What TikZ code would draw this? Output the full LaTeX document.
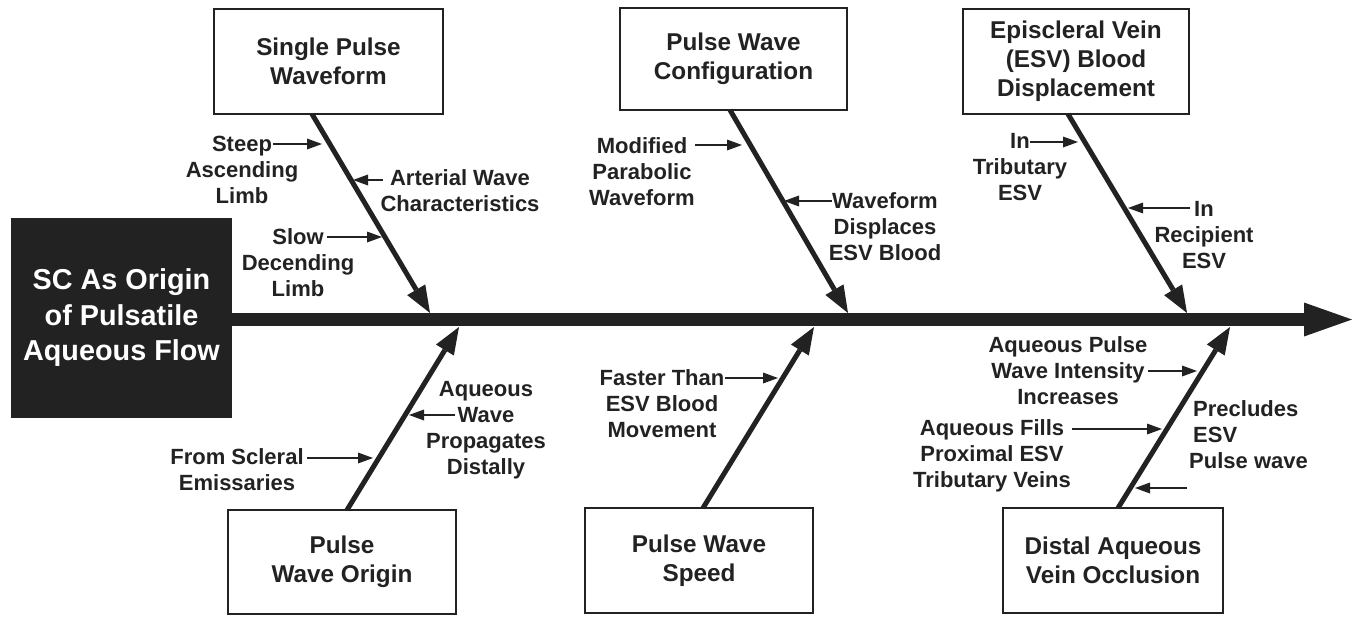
\documentclass[tikz,border=0pt]{standalone}
\usepackage{fontspec}
\setmainfont{Liberation Sans}
\usetikzlibrary{arrows.meta}
\definecolor{ink}{RGB}{34,34,34}
\tikzset{
  cause/.style={draw=ink, line width=2.5pt, fill=white, inner sep=0pt, align=center,
    text=ink, font=\fontsize{24.3}{29}\selectfont\bfseries},
  effect/.style={fill=ink, inner sep=0pt, align=center, text=white,
    font=\fontsize{28.8}{35.5}\selectfont\bfseries, minimum width=221pt, minimum height=200pt},
  note/.style={align=center, text=ink, inner sep=0pt, font=\fontsize{22}{26}\selectfont\bfseries},
  bone/.style={draw=ink, line width=5pt, -{Triangle[length=27pt,width=21pt,line width=0pt]}},
  spine/.style={draw=ink, line width=13pt, -{Triangle[length=48pt,width=34pt,line width=0pt]}},
  pointer/.style={draw=ink, line width=2pt, -{Triangle[length=15pt,width=11pt,line width=0pt]}},
}
\begin{document}
\begin{tikzpicture}[x=1pt,y=-1pt]
\useasboundingbox (0,0) rectangle (1360,616);

% effect and spine
\node[effect] (sc) at (121.5,318) {SC As Origin\\of Pulsatile\\Aqueous Flow};
\coordinate (head) at (1352,319.5);
\draw[spine] (sc.east |- head) -- (head);

% cause boxes
\node[cause, minimum width=229pt, minimum height=105pt] (c1) at (328.5,61.5) {Single Pulse\\Waveform};
\node[cause, minimum width=227pt, minimum height=102pt] (c2) at (733.5,59) {Pulse Wave\\Configuration};
\node[cause, minimum width=226pt, minimum height=105pt] (c3) at (1076,61.5) {Episcleral Vein\\(ESV) Blood\\Displacement};
\node[cause, minimum width=228pt, minimum height=104pt] (c4) at (342,562) {Pulse\\Wave Origin};
\node[cause, minimum width=228pt, minimum height=105pt] (c5) at (699,560.5) {Pulse Wave\\Speed};
\node[cause, minimum width=220pt, minimum height=105pt] (c6) at (1113,560.5) {Distal Aqueous\\Vein Occlusion};

% bones
\coordinate (c1s) at (312,114);  \coordinate (c1t) at (430,313);
\coordinate (c2s) at (730,110);  \coordinate (c2t) at (848,313);
\coordinate (c3s) at (1068,114); \coordinate (c3t) at (1187,313);
\coordinate (c4s) at (347,510);  \coordinate (c4t) at (459,327);
\coordinate (c5s) at (703,508);  \coordinate (c5t) at (814,327);
\coordinate (c6s) at (1118,508); \coordinate (c6t) at (1230,327);
\foreach \i in {1,...,6} \draw[bone] (c\i s) -- (c\i t);

% sub-cause labels
\node[note] (n1) at (242,170) {Steep\\Ascending\\Limb};
\node[note] (n2) at (460,191) {Arterial Wave\\Characteristics};
\node[note] (n3) at (298,263) {Slow\\Decending\\Limb};
\node[note] (n4) at (642,172) {Modified\\Parabolic\\Waveform};
\node[note] (n5) at (885,227) {Waveform\\Displaces\\ESV Blood};
\node[note] (n6) at (1020,167) {In\\Tributary\\ESV};
\node[note] (n7) at (1204,235) {In\\Recipient\\ESV};
\node[note] (n8) at (237,470) {From Scleral\\Emissaries};
\node[note] (n9) at (486,430) {Aqueous\\Wave\\Propagates\\Distally};
\node[note] (n10) at (662,404) {Faster Than\\ESV Blood\\Movement};
\node[note] (n11) at (1068,371) {Aqueous Pulse\\Wave Intensity\\Increases};
\node[note] (n12) at (992,456) {Aqueous Fills\\Proximal ESV\\Tributary Veins};
\node[note, align=left, anchor=west] (n13) at (1189,435) {\hspace{4pt}Precludes\\\hspace{4pt}ESV\\Pulse wave};

% pointers from labels to bones
\coordinate (p1a) at (273,144);  \coordinate (p1b) at (322,144);
\coordinate (p2a) at (383,180);  \coordinate (p2b) at (353,180);
\coordinate (p3a) at (327,237);  \coordinate (p3b) at (382,237);
\coordinate (p4a) at (695,145);  \coordinate (p4b) at (742,145);
\coordinate (p5a) at (832,201);  \coordinate (p5b) at (784,201);
\coordinate (p6a) at (1030,142); \coordinate (p6b) at (1078,142);
\coordinate (p7a) at (1190,208); \coordinate (p7b) at (1128,208);
\coordinate (p8a) at (307,458);  \coordinate (p8b) at (373,458);
\coordinate (p9a) at (455,415);  \coordinate (p9b) at (409,415);
\coordinate (p10a) at (725,378); \coordinate (p10b) at (778,378);
\coordinate (p11a) at (1148,371); \coordinate (p11b) at (1197,371);
\coordinate (p12a) at (1072,429); \coordinate (p12b) at (1162,429);
\coordinate (p13a) at (1187,488); \coordinate (p13b) at (1135,488);
\foreach \i in {1,...,13} \draw[pointer] (p\i a) -- (p\i b);
\end{tikzpicture}
\end{document}
